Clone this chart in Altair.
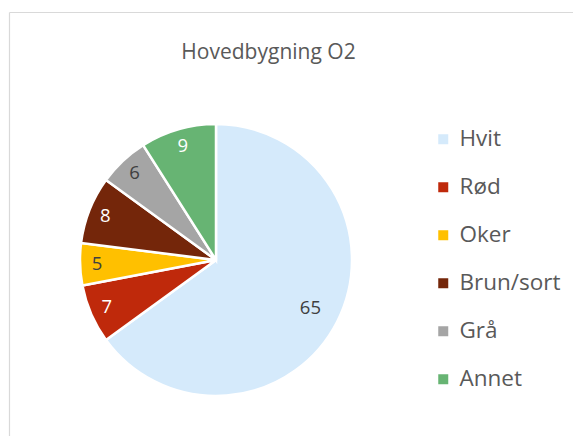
import altair as alt
import pandas as pd

# ---- data ----
tittel = "Hovedbygning O2"
kategorier = ["Hvit", "Rød", "Oker", "Brun/sort", "Grå", "Annet"]
andeler = [65, 7, 5, 8, 6, 9]
farger = ["#D5EAFB", "#BF290B", "#FFC000", "#74260A", "#A5A5A5", "#67B473"]
lyse_etiketter = ["Rød", "Brun/sort", "Annet"]

df = pd.DataFrame({
    "kategori": kategorier,
    "andel": andeler,
    "rekkefolge": list(range(len(kategorier))),
})

FONT = "Open Sans"
CX, CY, R = 208, 252, 136

base = alt.Chart(df).encode(
    x=alt.value(CX),
    y=alt.value(CY),
)

pie = base.mark_arc(outerRadius=R, stroke="white", strokeWidth=2.5).encode(
    theta=alt.Theta("andel:Q", stack=True),
    order=alt.Order("rekkefolge:Q"),
    color=alt.Color(
        "kategori:N",
        sort=kategorier,
        scale=alt.Scale(domain=kategorier, range=farger),
        legend=alt.Legend(
            title=None,
            orient="none",
            legendX=424,
            legendY=120,
            symbolType="square",
            symbolSize=100,
            symbolStrokeWidth=0,
            labelFontSize=22.5,
            labelFont=FONT,
            labelColor="#595959",
            rowPadding=25,
            labelOffset=5,
            padding=0,
        ),
    ),
)

# label positions: midpoint of each slice via cumulative sum
lab_base = base.transform_window(
    cum="sum(andel)", sort=[alt.SortField("rekkefolge")]
).transform_calculate(
    mid="datum.cum - datum.andel / 2"
)

lab_color = alt.condition(
    alt.FieldOneOfPredicate(field="kategori", oneOf=lyse_etiketter),
    alt.value("white"),
    alt.value("#404040"),
)

labels_big = lab_base.transform_filter("datum.andel > 50").mark_text(
    radius=106, fontSize=18.5, font=FONT
).encode(
    theta=alt.Theta("mid:Q"),
    text="andel:Q",
    color=lab_color,
)

labels_small = lab_base.transform_filter("datum.andel <= 50").mark_text(
    radius=119, fontSize=18.5, font=FONT
).encode(
    theta=alt.Theta("mid:Q"),
    text="andel:Q",
    color=lab_color,
)

title_df = pd.DataFrame({"t": [tittel]})
title = alt.Chart(title_df).mark_text(
    font=FONT, fontSize=21, color="#595959", baseline="alphabetic", align="center"
).encode(text="t:N", x=alt.value(260.5), y=alt.value(50.5))

frame_df = pd.DataFrame({"f": [0]})
frame_top = alt.Chart(frame_df).mark_rule(color="#D9D9D9", strokeWidth=1.2).encode(
    x=alt.value(1.5), x2=alt.value(565), y=alt.value(4.5)
)
frame_left = alt.Chart(frame_df).mark_rule(color="#D9D9D9", strokeWidth=1.2).encode(
    x=alt.value(1.5), y=alt.value(4.5), y2=alt.value(428)
)

chart = alt.layer(
    frame_top, frame_left, title, pie, labels_big, labels_small
).properties(
    width=565,
    height=428,
    autosize=alt.AutoSizeParams(type="none"),
    padding=0,
    background="white",
).configure_view(stroke=None)

chart.save("out.html", embed_options={"renderer": "svg", "actions": False})
